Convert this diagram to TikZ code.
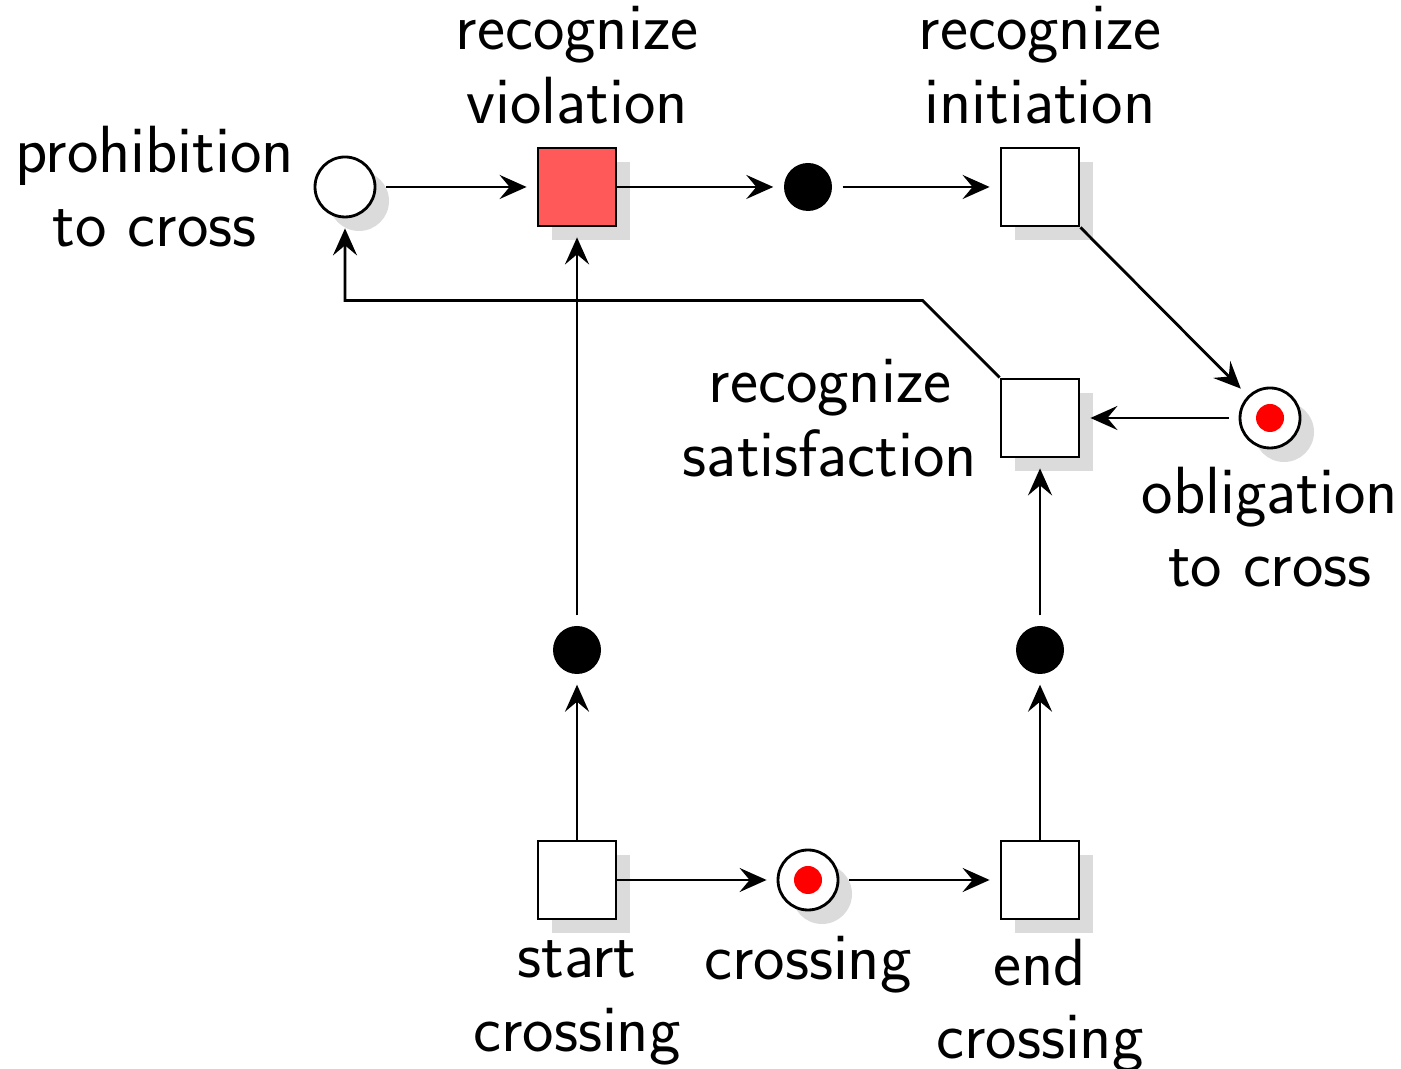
\documentclass[tikz,border=0pt]{standalone}
\usepackage{tikz}
\usetikzlibrary{arrows.meta,shadows}

\begin{document}
\begin{tikzpicture}[font=\fontsize{19}{21}\selectfont\sffamily,
    shade/.style={drop shadow={opacity=1,fill=black!14,shadow xshift=1.4mm,shadow yshift=-1.4mm}},
    place/.style={circle,draw,thick,fill=white,minimum size=6mm,inner sep=0pt,shade},
    marked/.style={place,path picture={\fill[red] (path picture bounding box.center) circle[radius=1.4mm];}},
    trans/.style={rectangle,draw,thick,fill=white,minimum size=7.8mm,inner sep=0pt,shade},
    dot/.style={circle,fill=black,minimum size=4.8mm,inner sep=0pt},
    every label/.style={align=center},
    flow/.style={-{Stealth[length=2.7mm,width=2.4mm,inset=1mm]},thick,shorten >=1mm},
    pflow/.style={flow,shorten <=1mm}]
    \useasboundingbox (0,0) rectangle (14.01,10.69);
    \node[place,label={[label distance=0.7mm]left:prohibition\\to cross}] (proh) at (3.45,8.82) {};
    \node[trans,fill=red!65,label={[label distance=1mm]above:recognize\\violation}] (viol) at (5.77,8.82) {};
    \node[dot] (dotT) at (8.08,8.82) {};
    \node[trans,label={[label distance=1mm]above:recognize\\initiation}] (init) at (10.40,8.82) {};
    \node[marked,label={[label distance=0.5mm]below:obligation\\to cross}] (oblig) at (12.70,6.51) {};
    \node[trans,label={[label distance=1mm]left:recognize\\satisfaction}] (satis) at (10.40,6.51) {};
    \node[dot] (dotL) at (5.77,4.19) {};
    \node[dot] (dotR) at (10.40,4.19) {};
    \node[trans,label={[label distance=0.8mm]below:start\\crossing}] (start) at (5.77,1.89) {};
    \node[marked,label={[label distance=1.2mm]below:crossing}] (cross) at (8.08,1.89) {};
    \node[trans,label={[label distance=0.6mm]below:end\\crossing}] (end) at (10.40,1.89) {};
    % upper row
    \draw[pflow] (proh) -- (viol);
    \draw[flow] (viol) -- (dotT);
    \draw[pflow] (dotT) -- (init);
    \draw[flow] (init.south east) -- (oblig);
    \draw[pflow] (oblig) -- (satis);
    \draw[flow] (satis.north west) -- ++(-0.77,0.77) -| (proh);
    % lower row
    \draw[flow] (start) -- (dotL);
    \draw[pflow] (dotL) -- (viol);
    \draw[flow] (start) -- (cross);
    \draw[pflow] (cross) -- (end);
    \draw[flow] (end) -- (dotR);
    \draw[pflow] (dotR) -- (satis);
\end{tikzpicture}
\end{document}
